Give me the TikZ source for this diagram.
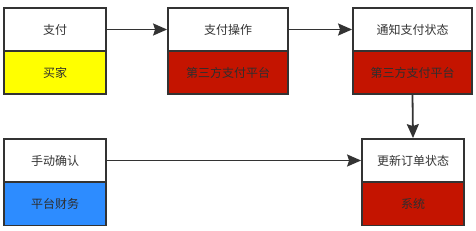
\documentclass[tikz,border=0pt]{standalone}
\usepackage{fontspec}
\setmainfont{Noto Sans CJK SC}
\usetikzlibrary{arrows.meta}
\definecolor{ink}{HTML}{333333}
\definecolor{buyer}{HTML}{FFFF00}
\definecolor{third}{HTML}{C41400}
\definecolor{finance}{HTML}{2D8CFF}
\tikzset{
  every picture/.style={font=\fontsize{12}{14}\selectfont},
  stage/.style={draw=ink,line width=1.8pt,fill=white,text=ink,inner sep=0pt,minimum height=43pt},
  role/.style={stage,text=ink!90!black},
  flow/.style={-{Stealth[length=14pt,width=12pt,inset=2pt]},draw=ink,line width=1.8pt},
}
\begin{document}
\begin{tikzpicture}[x=1pt,y=-1pt]
  % y runs downward so that positions follow the 476 x 230 px reference.
  \useasboundingbox (0,0) rectangle (476,230);

  % Upper row: payment by the buyer, then the third-party platform.
  \node[stage,minimum width=102pt] (pay) at (55,29.5) {支付};
  \node[role,fill=buyer,minimum width=102pt] (payrole) at (55,72.5) {买家};
  \node[stage,minimum width=120pt] (payop) at (228,29.5) {支付操作};
  \node[role,fill=third,minimum width=120pt] (payoprole) at (228,72.5) {第三方支付平台};
  \node[stage,minimum width=119pt] (notify) at (412.5,29.5) {通知支付状态};
  \node[role,fill=third,minimum width=119pt] (notifyrole) at (412.5,72.5) {第三方支付平台};

  % Lower row: manual confirmation and the order update.
  \node[stage,minimum width=102pt] (confirm) at (55,160.5) {手动确认};
  \node[role,fill=finance,minimum width=102pt] (confirmrole) at (55,204) {平台财务};
  \node[stage,minimum width=102pt] (update) at (413,160.5) {更新订单状态};
  \node[role,fill=third,minimum width=102pt] (updaterole) at (413,204) {系统};

  \draw[flow] (pay) -- (payop);
  \draw[flow] (payop) -- (notify);
  \draw[flow] (notifyrole.south) -- (update.north);
  \draw[flow] (confirm) -- (update);
\end{tikzpicture}
\end{document}
